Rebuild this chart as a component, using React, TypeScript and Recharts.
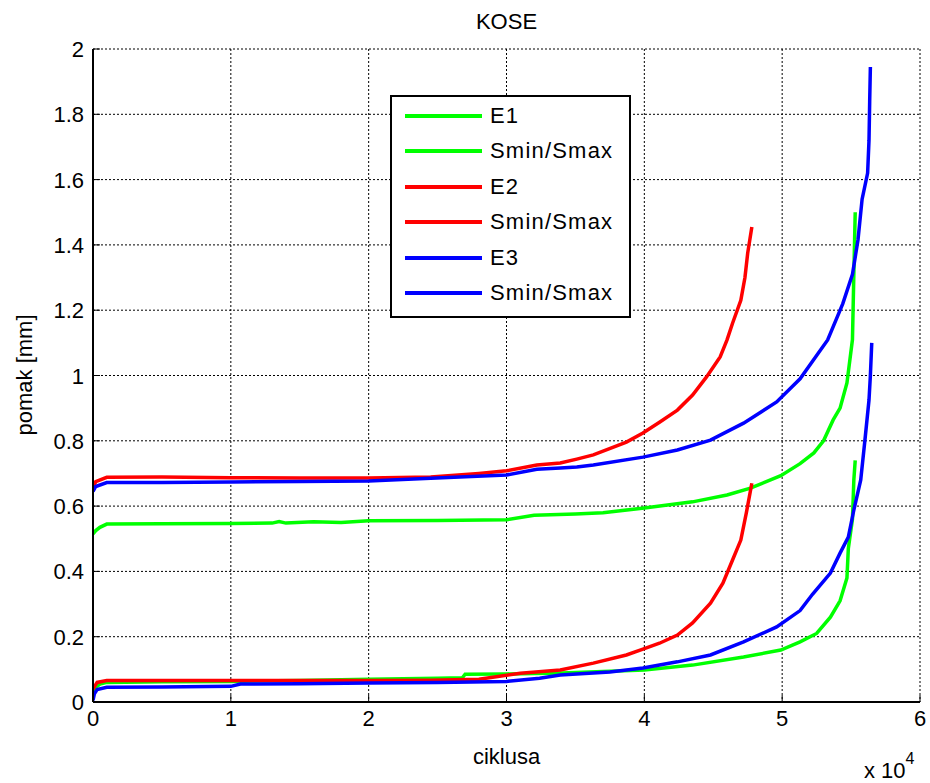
import { LineChart, Line, XAxis, YAxis, CartesianGrid } from 'recharts';

// x in units of 10^4 cycles, y in mm
const e1Upper: [number, number][] = [
  [0, 0.515], [0.02, 0.525], [0.05, 0.535], [0.1, 0.545], [0.5, 0.546], [1.0, 0.547],
  [1.3, 0.548], [1.35, 0.553], [1.4, 0.548], [1.6, 0.552], [1.8, 0.55], [2.0, 0.555],
  [2.5, 0.556], [3.0, 0.558], [3.2, 0.572], [3.5, 0.576], [3.7, 0.58], [4.0, 0.594],
  [4.35, 0.613], [4.6, 0.634], [4.77, 0.655], [4.99, 0.693], [5.13, 0.73], [5.23, 0.763],
  [5.3, 0.8], [5.37, 0.864], [5.42, 0.9], [5.47, 0.977], [5.51, 1.11], [5.52, 1.31], [5.53, 1.5],
];
const e1Lower: [number, number][] = [
  [0, 0.03], [0.02, 0.045], [0.05, 0.055], [0.1, 0.06], [0.5, 0.062], [1.0, 0.063],
  [1.5, 0.066], [2.0, 0.07], [2.5, 0.073], [2.68, 0.074], [2.7, 0.085], [3.0, 0.086],
  [3.4, 0.089], [4.0, 0.098], [4.35, 0.113], [4.72, 0.138], [4.99, 0.159], [5.13, 0.184],
  [5.25, 0.21], [5.35, 0.26], [5.42, 0.31], [5.47, 0.38], [5.48, 0.47], [5.51, 0.56],
  [5.52, 0.68], [5.53, 0.74],
];
const e2Upper: [number, number][] = [
  [0, 0.655], [0.02, 0.675], [0.1, 0.688], [0.5, 0.689], [1.0, 0.687], [1.5, 0.686],
  [2.0, 0.686], [2.45, 0.689], [2.8, 0.7], [3.0, 0.708], [3.22, 0.726], [3.39, 0.732],
  [3.51, 0.744], [3.63, 0.757], [3.87, 0.796], [3.99, 0.824], [4.11, 0.857], [4.24, 0.894],
  [4.35, 0.94], [4.45, 0.995], [4.55, 1.057], [4.6, 1.109], [4.64, 1.16], [4.7, 1.23],
  [4.73, 1.3], [4.75, 1.375], [4.78, 1.455],
];
const e2Lower: [number, number][] = [
  [0, 0.04], [0.03, 0.06], [0.1, 0.066], [1.0, 0.066], [2.0, 0.066], [2.45, 0.067],
  [2.8, 0.07], [3.1, 0.088], [3.39, 0.098], [3.63, 0.119], [3.87, 0.144], [3.99, 0.162],
  [4.11, 0.18], [4.24, 0.205], [4.35, 0.242], [4.48, 0.303], [4.57, 0.364], [4.64, 0.435],
  [4.7, 0.496], [4.74, 0.579], [4.78, 0.67],
];
const e3Upper: [number, number][] = [
  [0, 0.645], [0.02, 0.66], [0.1, 0.672], [0.5, 0.672], [1.0, 0.674], [1.5, 0.675],
  [2.0, 0.677], [2.45, 0.685], [3.0, 0.695], [3.22, 0.713], [3.39, 0.717], [3.51, 0.72],
  [3.63, 0.726], [3.99, 0.75], [4.24, 0.772], [4.48, 0.802], [4.72, 0.854], [4.96, 0.919],
  [5.13, 0.99], [5.33, 1.109], [5.44, 1.22], [5.51, 1.31], [5.55, 1.415], [5.58, 1.54],
  [5.62, 1.62], [5.63, 1.72], [5.635, 1.84], [5.64, 1.945],
];
const e3Lower: [number, number][] = [
  [0, 0.005], [0.01, 0.025], [0.03, 0.038], [0.1, 0.045], [0.5, 0.046], [1.0, 0.048],
  [1.07, 0.055], [1.5, 0.056], [2.0, 0.058], [2.5, 0.06], [3.0, 0.063], [3.24, 0.073],
  [3.39, 0.083], [3.75, 0.092], [3.99, 0.104], [4.24, 0.123], [4.48, 0.144], [4.72, 0.184],
  [4.96, 0.23], [5.13, 0.28], [5.22, 0.33], [5.35, 0.395], [5.42, 0.456], [5.48, 0.505],
  [5.52, 0.588], [5.57, 0.68], [5.6, 0.8], [5.63, 0.925], [5.64, 1.0], [5.65, 1.1],
];

const xTicks = [0, 1, 2, 3, 4, 5, 6];
const yTicks = [0, 0.2, 0.4, 0.6, 0.8, 1, 1.2, 1.4, 1.6, 1.8, 2];
const yTickLabels = ['0', '0.2', '0.4', '0.6', '0.8', '1', '1.2', '1.4', '1.6', '1.8', '2'];

const series = [
  { name: 'E1', color: '#00ff00', pts: e1Upper },
  { name: 'Smin/Smax', color: '#00ff00', pts: e1Lower },
  { name: 'E2', color: '#ff0000', pts: e2Upper },
  { name: 'Smin/Smax', color: '#ff0000', pts: e2Lower },
  { name: 'E3', color: '#0000ff', pts: e3Upper },
  { name: 'Smin/Smax', color: '#0000ff', pts: e3Lower },
];

const FONT = 'Arial, "Liberation Sans", Helvetica, sans-serif';
const TICK_IN = 7;
const MARGIN = 9;

function LeftTick({ x, y, payload }: any) {
  const i = yTicks.indexOf(payload.value);
  const ax = x + MARGIN;
  return (
    <g>
      <line x1={ax} x2={ax + TICK_IN} y1={y} y2={y} stroke="#000" />
      <text x={x} y={y} dy={8} textAnchor="end" fontSize={22} fontFamily={FONT} fill="#000">
        {i >= 0 ? yTickLabels[i] : payload.value}
      </text>
    </g>
  );
}
function RightTick({ x, y }: any) {
  const ax = x - MARGIN;
  return <line x1={ax} x2={ax - TICK_IN} y1={y} y2={y} stroke="#000" />;
}
function BottomTick({ x, y, payload }: any) {
  const ay = y - MARGIN;
  return (
    <g>
      <line x1={x} x2={x} y1={ay} y2={ay - TICK_IN} stroke="#000" />
      <text x={x} y={ay + 24} textAnchor="middle" fontSize={22} fontFamily={FONT} fill="#000">
        {payload.value}
      </text>
    </g>
  );
}
function TopTick({ x, y }: any) {
  const ay = y + MARGIN;
  return <line x1={x} x2={x} y1={ay} y2={ay + TICK_IN} stroke="#000" />;
}

const txt = { position: 'absolute' as const, fontFamily: FONT, fontSize: 22, color: '#000', lineHeight: 1 };

export default function App() {
  return (
    <div style={{ position: 'absolute', left: 0, top: 0, width: 930, height: 783, background: '#fff' }}>
      <LineChart width={930} height={783} margin={{ top: 49, right: 10, left: 33, bottom: 51 }}>
        <CartesianGrid stroke="#000" strokeDasharray="2 2" strokeWidth={1} />
        <XAxis type="number" dataKey="x" domain={[0, 6]} ticks={xTicks} allowDataOverflow
          height={30} tickSize={0} tickMargin={MARGIN} tick={<BottomTick />}
          axisLine={{ stroke: '#000', strokeWidth: 2 }} />
        <XAxis xAxisId="top" orientation="top" type="number" domain={[0, 6]} ticks={xTicks}
          height={0} tickSize={0} tickMargin={MARGIN} tick={<TopTick />}
          axisLine={{ stroke: '#000', strokeWidth: 2 }} />
        <YAxis type="number" domain={[0, 2]} ticks={yTicks} allowDataOverflow
          width={60} tickSize={0} tickMargin={MARGIN} tick={<LeftTick />}
          axisLine={{ stroke: '#000', strokeWidth: 2 }} />
        <YAxis yAxisId="right" orientation="right" type="number" domain={[0, 2]} ticks={yTicks}
          width={0} tickSize={0} tickMargin={MARGIN} tick={<RightTick />}
          axisLine={{ stroke: '#000', strokeWidth: 2 }} />
        {series.map((s, i) => (
          <Line key={i} data={s.pts.map(([x, y]) => ({ x, y }))} dataKey="y" type="linear"
            stroke={s.color} strokeWidth={3.5} dot={false} activeDot={false}
            isAnimationActive={false} />
        ))}
      </LineChart>

      <div style={{ ...txt, left: 0, width: 1013, top: 11, textAlign: 'center' }}>KOSE</div>
      <div style={{ ...txt, left: 0, width: 1013, top: 746, textAlign: 'center' }}>ciklusa</div>
      <div style={{ ...txt, left: 25, top: 375, transform: 'translate(-50%, -50%) rotate(-90deg)', whiteSpace: 'nowrap' }}>
        pomak [mm]
      </div>
      <div style={{ ...txt, left: 864, top: 760, whiteSpace: 'nowrap' }}>
        x 10<span style={{ fontSize: 16, position: 'relative', top: -14 }}>4</span>
      </div>

      <div style={{
        position: 'absolute', left: 390, top: 95, width: 237, height: 219,
        border: '2px solid #000', background: '#fff', fontFamily: FONT, fontSize: 22,
      }}>
        {series.map((s, i) => (
          <div key={i} style={{ position: 'absolute', left: 0, top: 19 + i * 35.4 - 11, height: 22, display: 'flex', alignItems: 'center' }}>
            <div style={{ marginLeft: 13, width: 77, height: 4, background: s.color }} />
            <span style={{ marginLeft: 8, lineHeight: 1, letterSpacing: 1.2 }}>{s.name}</span>
          </div>
        ))}
      </div>
    </div>
  );
}
